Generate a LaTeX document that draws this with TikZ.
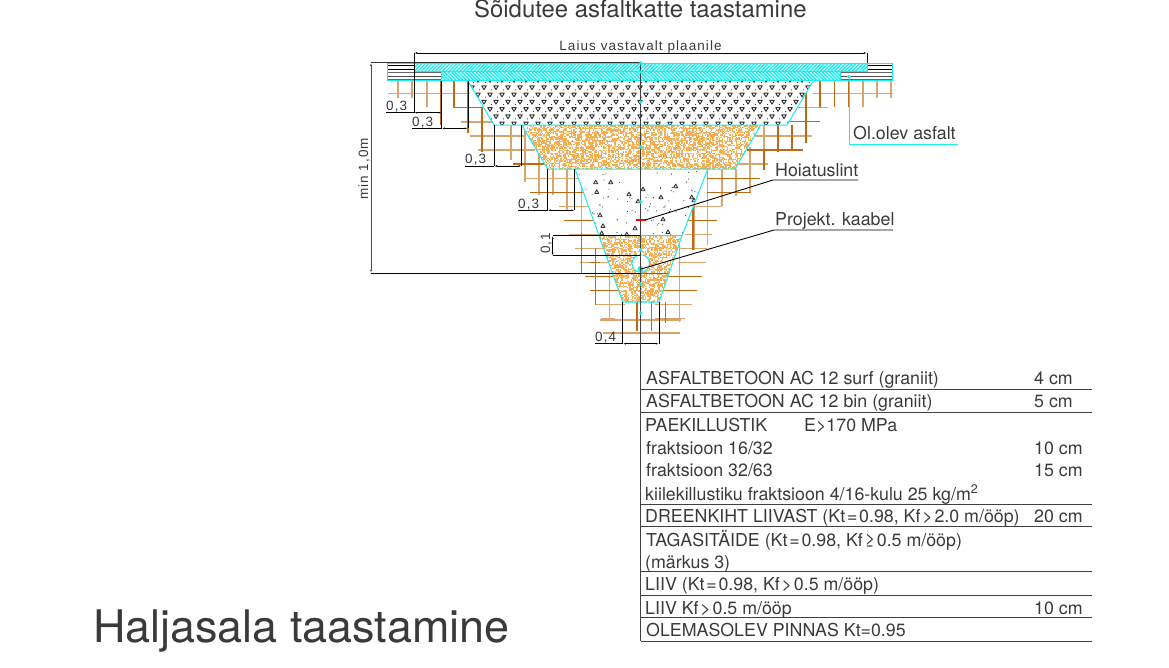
\documentclass[tikz,border=0pt]{standalone}
\usepackage{fontspec}
\setmainfont{TeX Gyre Heros}
\newfontfamily\dimfont[LetterSpace=8]{Liberation Sans}
\usetikzlibrary{arrows.meta}
\definecolor{trench}{HTML}{14EEEE}
\definecolor{sandor}{HTML}{F7AE52}
\definecolor{soillight}{HTML}{D9A56E}
\definecolor{soildark}{HTML}{BE6A12}
\definecolor{inktext}{HTML}{3A3A3A}
\newcommand\rel[1]{\kern1.8pt#1\kern1.8pt}
\tikzset{
 lab/.style={anchor=base west,inner sep=0pt,text=inktext,font=\fontsize{17.8}{20}\selectfont},
 small/.style={anchor=base west,inner sep=0pt,text=inktext,font=\dimfont\fontsize{13.5}{15}\selectfont},
 rule/.style={draw=black!75,line width=0.9pt},
 dimline/.style={draw=black,line width=1pt},
 dimarrow/.style={dimline,{Latex[length=3.2pt,width=1.8pt]}-{Latex[length=3.2pt,width=1.8pt]}},
 sl/.style={soillight,line width=1.1pt},
 sd/.style={soildark,line width=1.1pt},
 edge/.style={draw=trench,line width=1pt},
 dotc/.style={fill=trench,draw=none},
 leader/.style={draw=black,line width=0.9pt},
}
\newcommand\speckle[4]{%
 \pgfmathsetmacro\sxb{#1+1.3}\pgfmathsetmacro\syb{#3+1.3}%
 \foreach \xx in {#1,\sxb,...,#2}{%
  \foreach \yy in {#3,\syb,...,#4}{%
   \pgfmathrandominteger{\rr}{0}{99}%
   \ifnum\rr<54 \fill[sandor] (\xx,\yy) rectangle ++(1.3,1.3);\fi
 }}}
\begin{document}
\begin{tikzpicture}[x=1pt,y=-1pt]
\useasboundingbox (0,0) rectangle (1169,667);
\pgfmathsetseed{4242}

% soil lines, light
\foreach \x/\a/\b in {398/81/98,412/81/98,427/81/107,525/125/182,539/125/195,553/169/195,567/169/210,581.7/170/250,
  764/125/150,750/147/193,736/169/196,722/169/206,707.7/169/245,694/169/250,679.5/236/322,609.3/270/320,
  877/81/98,891/81/98,863/81/107,511/125/160}
  \draw[sl] (\x,\a)--(\x,\b);
\foreach \y/\a/\b in {93.3/388/470,122/461/496,136/470/526,150/478/535,178.3/525/578,206.3/559/590,234.3/569/600,
  248.3/575/606,262.3/580/612,304.7/596/625,318.7/601/615,93.3/813/893,136/755/812,107.3/797/828,
  164/738/768,206.3/693/722,234.3/685/712,248.3/680/707,262.3/678/706,318.7/655/685,304.7/655/692,333/603/680,320/600/681}
  \draw[sl] (\a,\y)--(\b,\y);
% soil lines, dark
\foreach \x/\a/\b in {441/81/125,454/81/108,468/81/133,482/108/152,820/81/107,834.7/81/107,848.7/81/107,
  806/93/143,792/125/150,778/125/152,764/150/170,693/190/250,595.7/248/305,581.7/233/273,637/302/331,651.7/302/331,665.7/302/323}
  \draw[sd] (\x,\a)--(\x,\b);
\foreach \y/\a/\b in {107.5/454/483,164/513/546,192.3/530/583,220.3/564/597,276.7/585/620,290.7/590/620,
  121.7/790/820,150/747/803,178.3/707/760,192.7/707/751,220.3/688/717,276.7/665/702,290.7/660/697,262.3/590/600}
  \draw[sd] (\a,\y)--(\b,\y);

% aggregate layer
\fill[white] (468,81)--(813,81)--(787,125)--(494,125)--cycle;
\begin{scope}
 \clip (468,81)--(813,81)--(787,125)--(494,125)--cycle;
 \foreach \r in {0,...,6}{
  \pgfmathsetmacro\yr{80.5+7.25*\r}
  \pgfmathsetmacro\off{mod(\r,2)==0 ? 0 : 6}
  \foreach \k in {0,...,29}{
   \pgfmathsetmacro\xk{466+\off+12*\k}
   \draw[black!80,line width=0.95pt,fill=white,line join=round] (\xk-2.3,\yr-1.9)--(\xk+2.3,\yr-1.9)--(\xk,\yr+1.8)--cycle;
   \fill[black!85] (\xk-4.4,\yr+2.1) circle (0.55);
  }
 }
\end{scope}

% sand layers
\fill[white] (521.7,125)--(760.7,125)--(735,169)--(547.7,169)--cycle;
\begin{scope}
 \clip (521.7,125)--(760.7,125)--(735,169)--(547.7,169)--cycle;
 \speckle{520}{762}{124}{170}
\end{scope}
\fill[white] (599,235.7)--(682,235.7)--(659,302)--(622.7,302)--cycle;
\begin{scope}
 \clip (599,235.7)--(682,235.7)--(659,302)--(622.7,302)--cycle;
 \speckle{598}{684}{235}{303}
\end{scope}

% concrete layer
\fill[white] (575,169)--(707.7,169)--(682,235.7)--(599,235.7)--cycle;
\begin{scope}
 \clip (575,169)--(707.7,169)--(682,235.7)--(599,235.7)--cycle;
 \foreach \i in {1,...,95}{
  \pgfmathsetmacro\dx{575+rnd*133}
  \pgfmathsetmacro\dy{170+rnd*65}
  \fill[black!80] (\dx,\dy) circle (0.55);
 }
 \foreach \x/\y in {595.7/182,596.7/191.7,610.7/182,629/194,643/189,638/201,661/197,675.7/186,691.7/197,694/200,
   600/215,603/225.7,601.7/233,635/228,626.7/234,663/219,668/231.7}{
  \draw[black!80,line width=0.8pt,fill=black!15,line join=round] (\x-2.1,\y+1.7)--(\x+2.1,\y+1.7)--(\x,\y-1.9)--cycle;
 }
\end{scope}

% layer outlines
\draw[edge] (468,81)--(494,125)--(787,125)--(813,81);
\draw[edge] (521.7,125)--(547.7,169)--(735,169)--(760.7,125);
\draw[edge] (575,169)--(599,235.7)--(682,235.7)--(707.7,169);
\draw[edge] (599,235.7)--(622.7,302)--(659,302)--(682,235.7);

% asphalt layers
\begin{scope}
 \clip (414,63) rectangle (867,71.7);
 \foreach \x in {410,413.5,...,880} \draw[trench,line width=1.4pt] (\x,72)--(\x+9,63);
\end{scope}
\begin{scope}
 \clip (441.7,71.7) rectangle (840,80.7);
 \foreach \x in {430,433.5,...,850} \draw[trench,line width=1.4pt] (\x,71.7)--(\x+9,80.7);
\end{scope}
\foreach \y/\c in {65/black,69/black,72.5/black!60,76.5/black!70,79/black!60}{
 \draw[\c,line width=0.8pt] (388,\y)--(414,\y);
 \draw[\c,line width=0.8pt] (867,\y)--(892,\y);
}
\foreach \y/\c in {72.5/black!60,76.5/black!70,79/black!60}{
 \draw[\c,line width=0.8pt] (414,\y)--(441.7,\y);
 \draw[\c,line width=0.8pt] (840,\y)--(867,\y);
}
\draw[edge] (387.5,63) rectangle (892.5,80.7);
\draw[edge] (414,63)--(414,71.7)--(867,71.7)--(867,63);
\draw[edge] (441.7,71.7)--(441.7,80.7);
\draw[edge] (840,71.7)--(840,80.7);
\draw[black!80,line width=0.9pt] (371,62.6)--(640.5,62.6);

% cable pipe
\filldraw[fill=white,draw=trench,line width=1pt] (640.7,263.5) circle (8.8);
\draw[black!60,line width=0.8pt] (640.5,273)--(668,273);
\fill[trench] (640.5,269) circle (3);

% extension and dimension lines
\draw[dimline] (414,53)--(414,112.7);
\draw[dimline] (867,53)--(867,63);
\draw[dimline,-{Latex[length=3.2pt,width=1.8pt]}] (640,53)--(867,53);
\draw[dimline,-{Latex[length=3.2pt,width=1.8pt]}] (640,53)--(414,53);
\draw[dimline] (441.7,81)--(441.7,128.3);
\draw[dimline] (468,81)--(468,128.3);
\draw[dimline] (494,125)--(494,166);
\draw[dimline] (521.7,125)--(521.7,166);
\draw[dimline] (547.7,169)--(547.7,210.3);
\draw[dimline] (574.5,169)--(574.5,210.3);
\draw[dimline] (622.7,302)--(622.7,343.7);
\draw[dimline] (659,302)--(659,343.7);
\draw[dimarrow] (414,112.7)--(441.7,112.7);
\draw[dimarrow] (441.7,128.3)--(468,128.3);
\draw[dimarrow] (494,166)--(521.7,166);
\draw[dimarrow] (547.7,210.3)--(574.5,210.3);
\draw[dimarrow] (622.7,343.7)--(659,343.7);
\draw[dimline] (385.7,112.7)--(414,112.7);
\draw[dimline] (411.7,128.3)--(441.7,128.3);
\draw[dimline] (465,166)--(494,166);
\draw[dimline] (518,210.3)--(547.7,210.3);
\draw[dimline] (595,343.7)--(622.7,343.7);
\draw[dimline] (552.7,235.7)--(640.5,235.7);
\draw[dimline] (552.7,255.7)--(640.5,255.7);
\draw[dimarrow] (552.7,235.7)--(552.7,255.7);
\draw[dimline] (371,273)--(640.5,273);
\draw[dimarrow,draw=black!70] (371,62.6)--(371,273);

% centre line and table frame
\draw[rule,line width=1.1pt] (640.5,62)--(640.5,641);

% cyan marks
\foreach \x/\y in {640.7/63,640.7/72,640.7/102,640.7/147,640.7/202,640.7/250,640.7/284,640.7/313,849/76.7}
 \fill[dotc] (\x,\y) circle (1.9);
\draw[red,line width=1.4pt] (636,220)--(646,220);

% leaders
\coordinate (ha) at (645,220); \coordinate (hb) at (773,180); \coordinate (hc) at (858,180);
\coordinate (pa) at (641,269); \coordinate (pb) at (774,230); \coordinate (pc) at (893,230);
\coordinate (oa) at (849,76.7); \coordinate (ob) at (849,144.3); \coordinate (oc) at (957.7,144.3);
\draw[leader] (ha)--(hb)--(hc);
\draw[leader] (pa)--(pb)--(pc);
\draw[trench,line width=1pt] (oa)--(ob)--(oc);

% table rules
\foreach \y in {389.3,412.3,504,526,571.7,595,617.7,641}
 \draw[rule] (640.5,\y)--(1091.7,\y);

% text
\node[lab,font=\fontsize{23.9}{26}\selectfont] (title) at (474,17.6) {Sõidutee asfaltkatte taastamine};
\node[small,anchor=base] (laius) at (640.5,50) {Laius vastavalt plaanile};
\node[small,rotate=90] (minh) at (368,200) {min 1,0m};
\node[small] (d1) at (386,110) {0,3};
\node[small] (d2) at (412,126) {0,3};
\node[small] (d3) at (465,163.5) {0,3};
\node[small] (d4) at (518,208) {0,3};
\node[small] (d5) at (595,341) {0,4};
\node[small,rotate=90] (d6) at (550,254) {0,1};
\node[lab] (ol) at (853,139) {Ol.olev asfalt};
\node[lab] (hoi) at (775,176) {Hoiatuslint};
\node[lab] (pk) at (775,225.5) {Projekt. kaabel};

\node[lab] (t1) at (646,384) {ASFALTBETOON AC 12 surf (graniit)};
\node[lab] (u1) at (1034,384) {4 cm};
\node[lab] (t2) at (646,407) {ASFALTBETOON AC 12 bin (graniit)};
\node[lab] (u2) at (1034,407) {5 cm};
\node[lab] (t3) at (645,431.7) {PAEKILLUSTIK};
\node[lab] (t3b) at (804,431.7) {E>170 MPa};
\node[lab] (t4) at (646,454.5) {fraktsioon 16/32};
\node[lab] (u4) at (1034,454.5) {10 cm};
\node[lab] (t5) at (646,476.7) {fraktsioon 32/63};
\node[lab] (u5) at (1034,476.7) {15 cm};
\node[lab] (t6) at (645,500) {kiilekillustiku fraktsioon 4/16-kulu 25 kg/m\textsuperscript{2}};
\node[lab] (t7) at (645,522.7) {DREENKIHT LIIVAST (Kt\rel{=}0.98, Kf\rel{>}2.0 m/ööp)};
\node[lab] (u7) at (1034,522.7) {20 cm};
\node[lab] (t8) at (646,546.7) {TAGASITÄIDE (Kt\rel{=}0.98, Kf\rel{≥}0.5 m/ööp)};
\node[lab] (t9) at (645,568) {(märkus 3)};
\node[lab] (t10) at (645,590.7) {LIIV (Kt\rel{=}0.98, Kf\rel{>}0.5 m/ööp)};
\node[lab] (t11) at (645,614) {LIIV Kf\rel{>}0.5 m/ööp};
\node[lab] (u11) at (1034,614) {10 cm};
\node[lab] (t12) at (646,636) {OLEMASOLEV PINNAS Kt=0.95};
\node[lab,font=\fontsize{44.9}{50}\selectfont] (hal) at (93,642) {Haljasala taastamine};
\end{tikzpicture}
\end{document}
